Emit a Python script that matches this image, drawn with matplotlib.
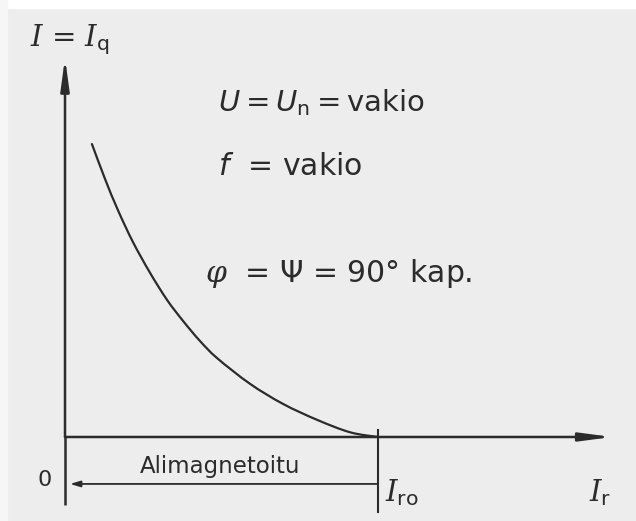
import matplotlib
matplotlib.use("Agg")
import matplotlib.pyplot as plt
from matplotlib.path import Path
from matplotlib.patches import PathPatch

plt.rcParams["mathtext.fontset"] = "custom"
plt.rcParams["mathtext.rm"] = "DejaVu Sans"
plt.rcParams["mathtext.it"] = "DejaVu Serif:italic"
plt.rcParams["mathtext.sf"] = "DejaVu Sans:italic"

# loisvirta I_q pätövirran I_r funktiona (suhteellisina, I_ro = 1)
I_r = [0.086, 0.128, 0.169, 0.217, 0.272, 0.326, 0.377, 0.431, 0.486,
       0.591, 0.696, 0.805, 0.911, 1.0]
I_q = [0.936, 0.824, 0.725, 0.623, 0.524, 0.438, 0.371, 0.307, 0.252,
       0.170, 0.106, 0.055, 0.015, 0.0]
I_ro = 1.0

ink = "#2b2b2b"
paper = "#ededed"


def smooth_path(xs, ys):
    # Catmull-Rom -käyrä Bezier-paloina pisteiden kautta
    pts = list(zip(xs, ys))
    verts = [pts[0]]
    codes = [Path.MOVETO]
    for i in range(len(pts) - 1):
        p0 = pts[max(i - 1, 0)]
        p1 = pts[i]
        p2 = pts[i + 1]
        p3 = pts[min(i + 2, len(pts) - 1)]
        c1 = (p1[0] + (p2[0] - p0[0]) / 6, p1[1] + (p2[1] - p0[1]) / 6)
        c2 = (p2[0] - (p3[0] - p1[0]) / 6, p2[1] - (p3[1] - p1[1]) / 6)
        verts += [c1, c2, p2]
        codes += [Path.CURVE4] * 3
    return Path(verts, codes)


fig = plt.figure(figsize=(6.36, 5.21), dpi=100, facecolor=paper)
ax = fig.add_axes([0, 0, 1, 1])
ax.set_facecolor(paper)
ax.set_xlim(-0.2077, 1.8243)
ax.set_ylim(-0.2684, 1.3962)
ax.axis("off")

# vaaleat reunat ylhäällä ja vasemmalla
fig.patches.append(plt.Rectangle((0, 0.985), 1, 0.015, transform=fig.transFigure,
                                 color="white", zorder=0))
fig.patches.append(plt.Rectangle((0, 0), 0.011, 1, transform=fig.transFigure,
                                 color="#f6f6f6", zorder=0))

# akselit nuolineen
ax.plot([0, 0], [-0.217, 0.0], color=ink, lw=1.8, solid_capstyle="butt")
ax.annotate("", xy=(0, 1.211), xytext=(0, 0),
            arrowprops=dict(arrowstyle="-|>,head_length=1.9,head_width=0.26",
                            color=ink, lw=1.8, shrinkA=0, shrinkB=0))
ax.annotate("", xy=(1.748, 0), xytext=(0, 0),
            arrowprops=dict(arrowstyle="-|>,head_length=1.9,head_width=0.25",
                            color=ink, lw=1.8, shrinkA=0, shrinkB=0))

# käyrä
ax.add_patch(PathPatch(smooth_path(I_r, I_q), fill=False, edgecolor=ink,
                       lw=1.6, capstyle="round"))

# I_ro -merkintä ja alimagnetoitu alue
ax.plot([I_ro, I_ro], [0.022, -0.24], color=ink, lw=1.5)
ax.annotate("", xy=(0.016, -0.150), xytext=(I_ro, -0.150),
            arrowprops=dict(arrowstyle="-|>,head_length=0.6,head_width=0.18",
                            color=ink, lw=1.3, shrinkA=0, shrinkB=0))
ax.text(0.495, -0.093, "Alimagnetoitu", fontsize=16.5, color=ink,
        ha="center", va="center")

# tekstit
ax.text(0.016, 1.27, r"$I$ = $I_{\mathrm{q}}$", fontsize=21, color=ink,
        ha="center", va="center")
ax.text(0.489, 1.067,
        "$\\mathsf{U}$\u2009=\u2009$\\mathsf{U}_{\\mathrm{n}}$\u2009=\u2009vakio",
        fontsize=21, color=ink, ha="left", va="center")
ax.text(0.489, 0.863, r"$\mathsf{f}$  = vakio", fontsize=21.5, color=ink,
        ha="left", va="center")
ax.text(0.447, 0.521, r"$\varphi$  = $\Psi$ = 90° kap.", fontsize=21.5,
        color=ink, ha="left", va="center")
ax.text(-0.064, -0.137, "0", fontsize=16, color=ink, ha="center", va="center")
ax.text(1.709, -0.179, r"$I_{\mathrm{r}}$", fontsize=21, color=ink,
        ha="center", va="center")
ax.text(1.022, -0.179, r"$I_{\mathrm{ro}}$", fontsize=21, color=ink,
        ha="left", va="center")

fig.savefig("out.png", dpi=100, facecolor=paper)
